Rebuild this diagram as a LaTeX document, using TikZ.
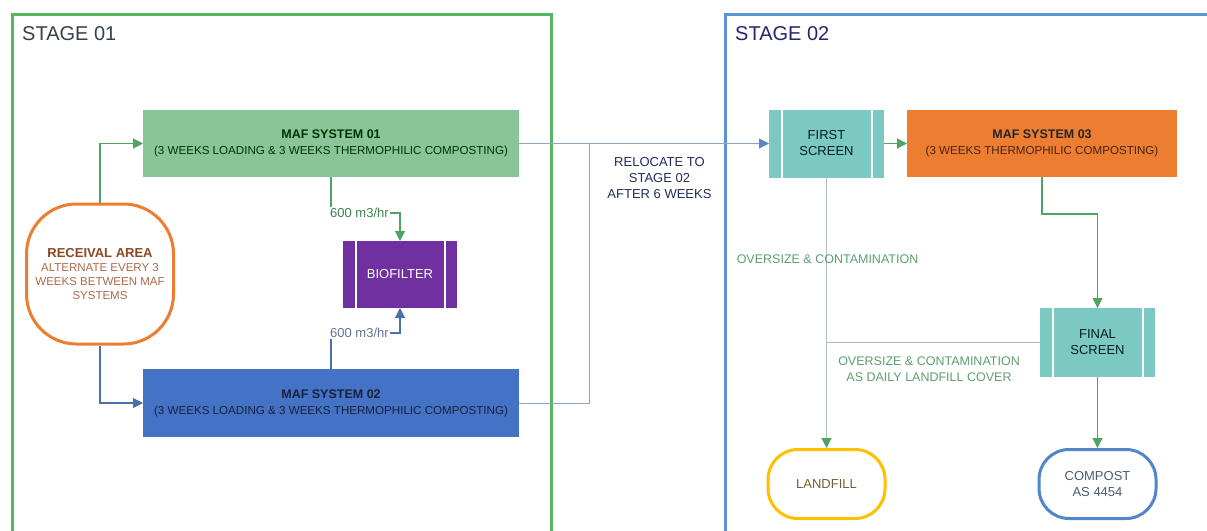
\documentclass[tikz,border=0pt]{standalone}
\usepackage{fontspec}
\setmainfont{Liberation Sans}
\usetikzlibrary{arrows.meta}
\definecolor{stageA}{RGB}{84,182,96}
\definecolor{stageB}{RGB}{91,150,210}
\definecolor{mafA}{RGB}{136,198,152}
\definecolor{mafB}{RGB}{68,114,196}
\definecolor{mafC}{RGB}{237,125,49}
\definecolor{bioC}{RGB}{112,48,160}
\definecolor{scrC}{RGB}{124,200,194}
\definecolor{lfC}{RGB}{255,192,0}
\definecolor{cpC}{RGB}{80,135,200}
\definecolor{recC}{RGB}{237,125,49}
\definecolor{recT}{RGB}{140,72,30}
\definecolor{recL}{RGB}{175,105,75}
\definecolor{stT}{RGB}{55,65,75}
\definecolor{gLine}{RGB}{78,165,98}
\definecolor{bLine}{RGB}{75,112,170}
\definecolor{rLine}{RGB}{140,165,200}
\definecolor{rTip}{RGB}{90,135,190}
\definecolor{grLine}{RGB}{175,190,185}
\definecolor{ovT}{RGB}{92,160,112}
\definecolor{navT}{RGB}{35,45,90}
\begin{document}
\begin{tikzpicture}[x=1pt,y=-1pt,
  box/.style={draw=none,rectangle,inner sep=0pt,outer sep=0pt,align=center},
  stagelbl/.style={inner sep=0pt,anchor=base west,text=stT,font=\fontsize{20}{24}\selectfont},
  screenbox/.style={box,fill=scrC,text=black!75!teal,font=\fontsize{13}{16}\selectfont,
    path picture={\draw[white,line width=2pt]
      ([xshift=12.5pt]path picture bounding box.north west) -- ([xshift=12.5pt]path picture bounding box.south west)
      ([xshift=-12.5pt]path picture bounding box.north east) -- ([xshift=-12.5pt]path picture bounding box.south east);}},
  endbox/.style={rectangle,line width=3pt,rounded corners=30pt,fill=white,align=center,inner sep=0pt,
    minimum width=117pt,minimum height=69pt,font=\fontsize{13}{16}\selectfont},
  tip/.style={-{Triangle[length=10pt,width=10pt]}},
  gline/.style={draw=gLine,line width=1.1pt,tip},
  bline/.style={draw=bLine,line width=1.1pt,tip},
  lbl/.style={inner sep=1pt,fill=white,font=\fontsize{13}{15}\selectfont}
]
\useasboundingbox (0,0) rectangle (1207,530);
\clip (0,0) rectangle (1207,530);
\fill[white] (0,0) rectangle (1207,530);
% stage frames
\draw[stageA,line width=3pt] (12.5,14.5) rectangle (551.5,560);
\draw[stageB,line width=3pt] (725.5,14.5) rectangle (1240,560);
\node[stagelbl] (st1) at (22,40) {STAGE 01};
\node[stagelbl,text=black!60!blue!70!gray] (st2) at (735,40) {STAGE 02};
% boxes
\node[box,fill=mafA,minimum width=376pt,minimum height=67pt,font=\fontsize{11.6}{16}\selectfont,text=black!80!green]
  (maf1) at (331,143.5) {{\fontsize{12.5}{16}\selectfont\bfseries MAF SYSTEM 01}\\(3 WEEKS LOADING \& 3 WEEKS THERMOPHILIC COMPOSTING)};
\node[box,fill=mafB,minimum width=376pt,minimum height=68pt,font=\fontsize{11.6}{16}\selectfont,text=navT!70!black]
  (maf2) at (331,403) {{\fontsize{12.5}{16}\selectfont\bfseries MAF SYSTEM 02}\\(3 WEEKS LOADING \& 3 WEEKS THERMOPHILIC COMPOSTING)};
\node[box,fill=mafC,minimum width=270pt,minimum height=67pt,font=\fontsize{11.6}{16}\selectfont,text=black!70!mafC]
  (maf3) at (1042,143.5) {{\fontsize{12.5}{16}\selectfont\bfseries\color{black!85} MAF SYSTEM 03}\\(3 WEEKS THERMOPHILIC COMPOSTING)};
\node[screenbox,fill=bioC,text=white,minimum width=114pt,minimum height=67pt] (bio) at (400,274.5) {BIOFILTER};
\node[screenbox,minimum width=115pt,minimum height=68pt] (fs) at (826.5,143.5) {FIRST\\SCREEN};
\node[screenbox,minimum width=115pt,minimum height=69pt] (fin) at (1097.5,342.5) {FINAL\\SCREEN};
\node[endbox,draw=lfC,text=black!60!lfC!60!gray] (lf) at (826.5,484) {LANDFILL};
\node[endbox,draw=cpC,text=black!50!cpC!60!gray] (cp) at (1097.5,484) {COMPOST\\AS 4454};
\node[rectangle,draw=recC,line width=3pt,rounded corners=50pt,fill=white,align=center,inner sep=0pt,
  minimum width=147pt,minimum height=140pt,font=\fontsize{11.5}{14.3}\selectfont,text=recL]
  (rec) at (100,274) {{\fontsize{13}{14.3}\selectfont\bfseries\color{recT}RECEIVAL AREA}\\ALTERNATE EVERY 3\\WEEKS BETWEEN MAF\\SYSTEMS};
% junction coordinates
\coordinate (c1) at (400,213);
\coordinate (c2) at (400,333);
\coordinate (j) at (589,143.5);
\coordinate (j2) at (826.5,342.5);
\coordinate (c3) at (1097.5,214);
% connectors
\draw[gline] (rec.north) |- (maf1.west);
\draw[bline] (rec.south) |- (maf2.west);
\draw[gline] (maf1.south) |- (c1) -- (bio.north);
\draw[bline] (maf2.north) |- (c2) -- (bio.south);
\draw[draw=rLine,line width=1pt,-{Triangle[length=10pt,width=10pt,color=rTip]}] (maf1.east) -- (fs.west);
\draw[draw=rLine,line width=1pt] (maf2.east) -| (j);
\draw[gline] (fs.east) -- (maf3.west);
\draw[draw=grLine,line width=1.1pt,-{Triangle[length=10pt,width=10pt,color=gLine]}] (fs.south) -- (lf.north);
\draw[draw=grLine,line width=1.1pt] (fin.west) -- (j2);
\draw[gline] (maf3.south) |- (c3) -- (fin.north);
\draw[gline] (fin.south) -- (cp.north);
% labels
\node[lbl,anchor=west,text=gLine!80!black] (l1) at (329,213) {600 m3/hr};
\node[lbl,anchor=west,text=bLine!60!gray] (l2) at (329,333) {600 m3/hr};
\node[align=center,inner sep=0pt,text=navT,font=\fontsize{13}{16}\selectfont] (reloc) at (659.5,178) {RELOCATE TO\\STAGE 02\\AFTER 6 WEEKS};
\node[inner sep=0pt,text=ovT,font=\fontsize{12.5}{16}\selectfont] (ov1) at (827.5,259) {OVERSIZE \& CONTAMINATION};
\node[align=center,inner sep=0pt,text=ovT,font=\fontsize{12.5}{16}\selectfont] (ov2) at (929,369) {OVERSIZE \& CONTAMINATION\\AS DAILY LANDFILL COVER};
\end{tikzpicture}
\end{document}
